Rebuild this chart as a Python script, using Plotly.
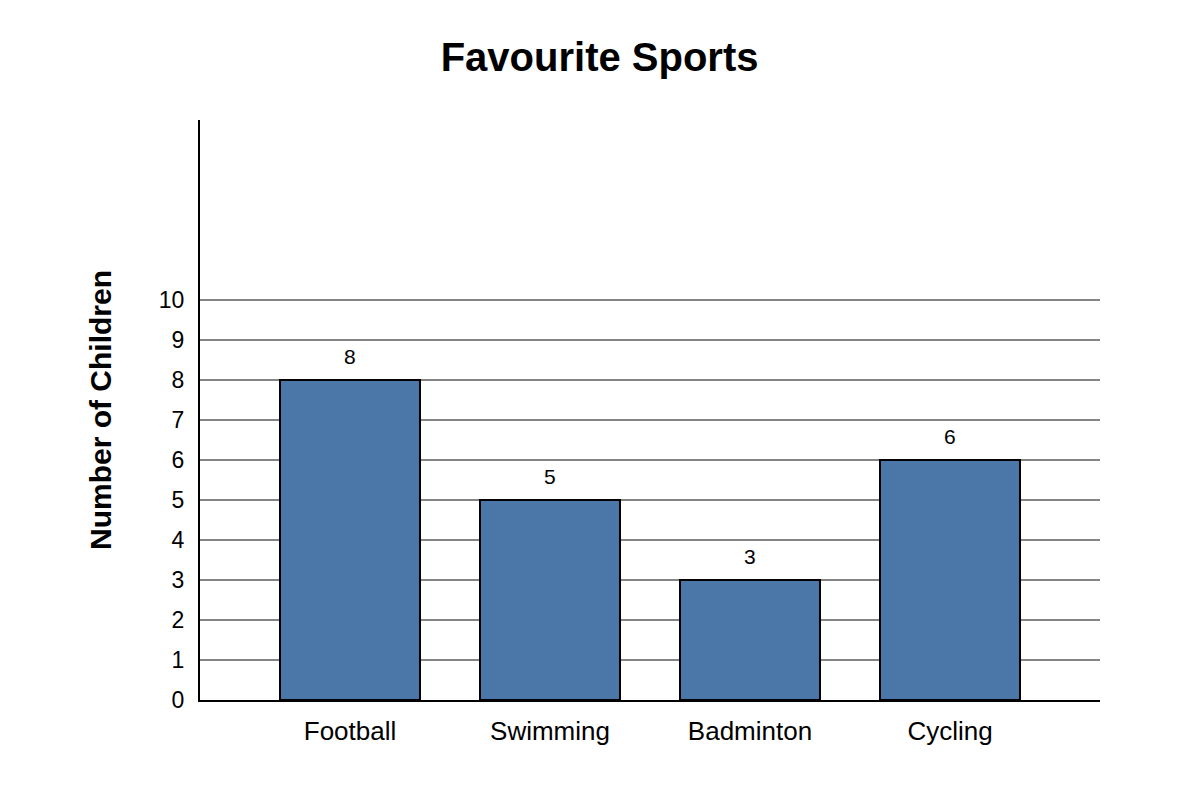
import plotly.graph_objects as go

sports = ["Football", "Swimming", "Badminton", "Cycling"]
children = [8, 5, 3, 6]
y_ticks = list(range(0, 11))

BAR_COLOR = "#4a77a8"
FONT = "Liberation Sans, Arial, sans-serif"

fig = go.Figure(
    go.Bar(
        x=sports,
        y=children,
        width=0.7,
        marker=dict(color=BAR_COLOR, line=dict(color="black", width=2)),
        hoverinfo="x+y",
    )
)

# value labels above bars
for s, v in zip(sports, children):
    fig.add_annotation(
        x=s, y=v, text=str(v), showarrow=False,
        yanchor="bottom", yshift=10,
        font=dict(family=FONT, size=21, color="black"),
    )

# page adds an 8px body margin, so margins are nudged to keep the plot in place
fig.update_layout(
    width=1200,
    height=800,
    margin=dict(l=192, r=108, t=112, b=108),
    paper_bgcolor="white",
    plot_bgcolor="white",
    showlegend=False,
    font=dict(family=FONT, color="black"),
    title=dict(
        text="<b>Favourite Sports</b>",
        x=0.493, xanchor="center", y=0.939, yanchor="middle",
        font=dict(family=FONT, size=40, color="black"),
    ),
)

fig.update_xaxes(
    range=[-0.75, 3.75],
    showline=True, linecolor="black", linewidth=2,
    showgrid=False, ticks="",
    tickfont=dict(family=FONT, size=26, color="black"),
    ticklabelstandoff=7,
)

fig.update_yaxes(
    range=[0, 14.5],
    tickvals=y_ticks,
    showline=True, linecolor="black", linewidth=2,
    showgrid=True, gridcolor="#858585", gridwidth=1.5,
    zeroline=False, ticks="",
    tickfont=dict(family=FONT, size=23, color="black"),
    ticklabelstandoff=9,
    title=dict(
        text="<b>Number of Children</b>",
        font=dict(family=FONT, size=30, color="black"),
        standoff=38,
    ),
)

fig.write_html("out.html")
